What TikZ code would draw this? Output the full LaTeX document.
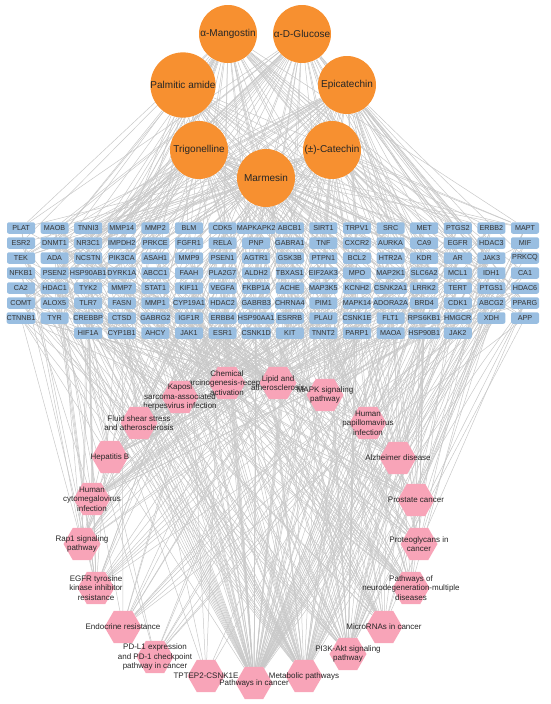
\documentclass[tikz,border=0pt]{standalone}
\usepackage{fontspec}
\setmainfont{Liberation Sans}
\usetikzlibrary{shapes.geometric}
\pgfdeclarelayer{background}
\pgfsetlayers{background,main}
\definecolor{herbcol}{RGB}{247,144,48}
\definecolor{genecol}{RGB}{153,190,225}
\definecolor{pathcol}{RGB}{248,164,184}
\definecolor{linkcol}{RGB}{200,200,200}
\begin{document}
\begin{tikzpicture}[x=1pt,y=-1pt,
 herb/.style={circle,fill=herbcol,minimum size=58pt,inner sep=0pt,font=\fontsize{10}{12}\selectfont,text=black!85},
 gene/.style={rectangle,rounded corners=2pt,fill=genecol,minimum width=28pt,minimum height=11.5pt,inner sep=0pt,font=\fontsize{7.2}{8}\selectfont,text=black!80},
 pathway/.style={regular polygon,regular polygon sides=6,fill=pathcol,minimum size=37pt,inner sep=0pt},
 plabel/.style={font=\fontsize{8}{9.6}\selectfont,align=center,text=black!85,inner sep=0pt},
 link/.style={draw=linkcol,line width=.5pt}]
 \useasboundingbox (0,0) rectangle (550,704);
 \pgfmathsetseed{2718}
 \node[herb] (mangostin) at (228,34) {α-Mangostin};
 \node[herb] (glucose) at (302,34) {α-D-Glucose};
 \node[herb] (palmitic) at (183,85) {Palmitic amide};
 \node[herb] (epicatechin) at (347,85) {Epicatechin};
 \node[herb] (trigonelline) at (199,150) {Trigonelline};
 \node[herb] (catechin) at (332,150) {(±)-Catechin};
 \node[herb] (marmesin) at (266,178) {Marmesin};
 \node[pathway,label={[plabel]center:{Chemical\\carcinogenesis-receptor\\activation}}] (chem) at (227,383) {};
 \node[pathway,label={[plabel]center:{MAPK signaling\\pathway}}] (mapk) at (325,395) {};
 \node[pathway,label={[plabel]center:{Kaposi\\sarcoma-associated\\herpesvirus infection}}] (kaposi) at (180,397) {};
 \node[pathway,label={[plabel]center:{Lipid and\\atherosclerosis}}] (lipid) at (278,383) {};
 \node[pathway,label={[plabel]center:{Fluid shear stress\\and atherosclerosis}}] (fluid) at (139,423) {};
 \node[pathway,label={[plabel]center:{Human\\papillomavirus\\infection}}] (hpv) at (368,423) {};
 \node[pathway,label={[plabel]center:{Hepatitis B}}] (hepb) at (110,457) {};
 \node[pathway,label={[plabel]center:{Alzheimer disease}}] (alz) at (398,458) {};
 \node[pathway,label={[plabel]center:{Human\\cytomegalovirus\\infection}}] (hcmv) at (92,499) {};
 \node[pathway,label={[plabel]center:{Prostate cancer}}] (prostate) at (416,500) {};
 \node[pathway,label={[plabel]center:{Rap1 signaling\\pathway}}] (rap1) at (82,544) {};
 \node[pathway,label={[plabel]center:{Proteoglycans in\\cancer}}] (proteo) at (419,544) {};
 \node[pathway,label={[plabel]center:{EGFR tyrosine\\kinase inhibitor\\resistance}}] (egfr) at (96,588) {};
 \node[pathway,label={[plabel]center:{Pathways of\\neurodegeneration-multiple\\diseases}}] (neuro) at (411,588) {};
 \node[pathway,label={[plabel]center:{Endocrine resistance}}] (endo) at (123,627) {};
 \node[pathway,label={[plabel]center:{MicroRNAs in cancer}}] (mirna) at (384,627) {};
 \node[pathway,label={[plabel]center:{PD-L1 expression\\and PD-1 checkpoint\\pathway in cancer}}] (pdl1) at (155,657) {};
 \node[pathway,label={[plabel]center:{PI3K-Akt signaling\\pathway}}] (pi3k) at (348,654) {};
 \node[pathway,label={[plabel]center:{TPTEP2-CSNK1E}}] (tptep) at (206,676) {};
 \node[pathway,label={[plabel]center:{Metabolic pathways}}] (metab) at (304,676) {};
 \node[pathway,label={[plabel]center:{Pathways in cancer}}] (cancer) at (254,683) {};
 \foreach \r/\first/\names in {
   1/1/{PLAT,MAOB,TNNI3,MMP14,MMP2,BLM,CDK5,MAPKAPK2,ABCB1,SIRT1,TRPV1,SRC,MET,PTGS2,ERBB2,MAPT},
   2/1/{ESR2,DNMT1,NR3C1,IMPDH2,PRKCE,FGFR1,RELA,PNP,GABRA1,TNF,CXCR2,AURKA,CA9,EGFR,HDAC3,MIF},
   3/1/{TEK,ADA,NCSTN,PIK3CA,ASAH1,MMP9,PSEN1,AGTR1,GSK3B,PTPN1,BCL2,HTR2A,KDR,AR,JAK3,PRKCQ},
   4/1/{NFKB1,PSEN2,HSP90AB1,DYRK1A,ABCC1,FAAH,PLA2G7,ALDH2,TBXAS1,EIF2AK3,MPO,MAP2K1,SLC6A2,MCL1,IDH1,CA1},
   5/1/{CA2,HDAC1,TYK2,MMP7,STAT1,KIF11,VEGFA,FKBP1A,ACHE,MAP3K5,KCNH2,CSNK2A1,LRRK2,TERT,PTGS1,HDAC6},
   6/1/{COMT,ALOX5,TLR7,FASN,MMP1,CYP19A1,HDAC2,GABRB3,CHRNA4,PIM1,MAPK14,ADORA2A,BRD4,CDK1,ABCG2,PPARG},
   7/1/{CTNNB1,TYR,CREBBP,CTSD,GABRG2,IGF1R,ERBB4,HSP90AA1,ESRRB,PLAU,CSNK1E,FLT1,RPS6KB1,HMGCR,XDH,APP},
   8/3/{HIF1A,CYP1B1,AHCY,JAK1,ESR1,CSNK1D,KIT,TNNT2,PARP1,MAOA,HSP90B1,JAK2}} {
  \foreach \g [count=\i] in \names {
   \node[gene] (\g) at ({21+33.6*(\i+\first-2)},{213+15*\r}) {\g};
   \begin{pgfonlayer}{background}
    \foreach \c in {mangostin,glucose,palmitic,epicatechin,trigonelline,catechin,marmesin} {
     \pgfmathtruncatemacro\hit{rnd<0.3}
     \ifnum\hit=1 \draw[link] (\c) -- (\g); \fi
    }
    \foreach \p/\w in {chem/.16,mapk/.2,kaposi/.15,lipid/.22,fluid/.15,hpv/.15,hepb/.14,alz/.18,
      hcmv/.14,prostate/.15,rap1/.12,proteo/.15,egfr/.12,neuro/.16,endo/.12,mirna/.14,
      pdl1/.08,pi3k/.28,tptep/.05,metab/.42,cancer/.48} {
     \pgfmathtruncatemacro\hit{rnd<\w}
     \ifnum\hit=1 \draw[link] (\g) -- (\p); \fi
    }
   \end{pgfonlayer}
  }
 }
\end{tikzpicture}
\end{document}
